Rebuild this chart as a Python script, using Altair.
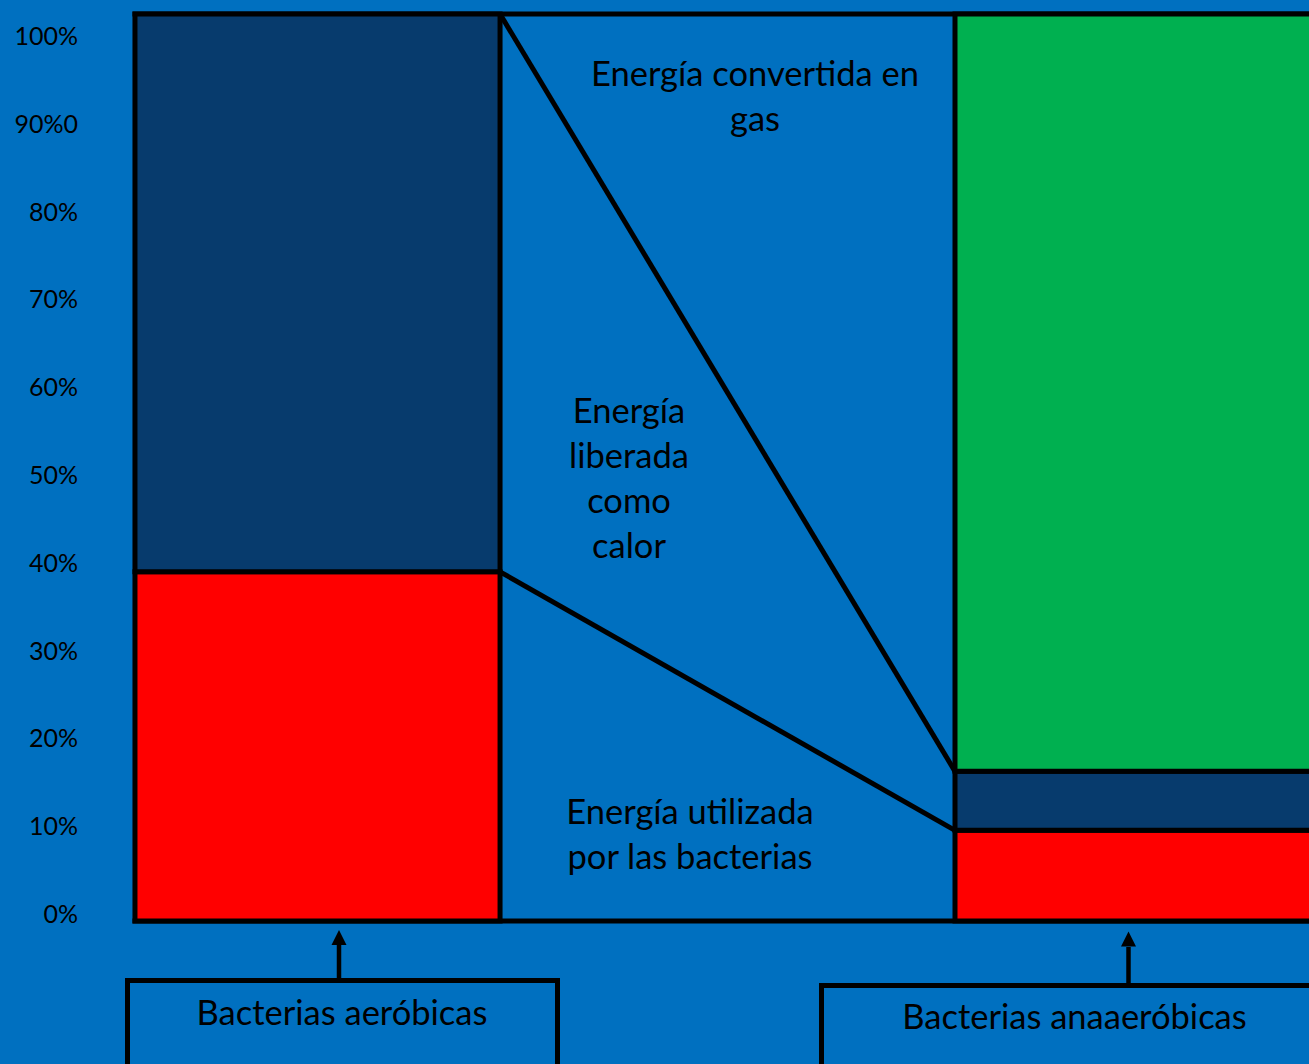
import altair as alt
import pandas as pd

# ---------------- data ----------------
categories = ["Bacterias aeróbicas", "Bacterias anaaeróbicas"]
utilizada = [38.5, 10.0]      # Energía utilizada por las bacterias (%)
calor = [61.5, 6.5]           # Energía liberada como calor (%)
gas = [0.0, 83.5]             # Energía convertida en gas (%)
segment_names = ["utilizada", "calor", "gas"]
segment_colors = ["#FF0000", "#073B6D", "#00B050"]

tick_values = [0, 10, 20, 30, 40, 50, 60, 70, 80, 90, 100]
tick_labels = ["0%", "10%", "20%", "30%", "40%", "50%", "60%", "70%", "80%", "90%0", "100%"]

label_gas = ["Energía convertida en", "gas"]
label_calor = ["Energía", "liberada", "como", "calor"]
label_util = ["Energía utilizada", "por las bacterias"]

# ---------------- tables ----------------
series = {"utilizada": utilizada, "calor": calor, "gas": gas}
rows = []
for i, cat in enumerate(categories):
    start = 0.0
    for name in segment_names:
        v = series[name][i]
        if v > 0:
            rows.append({"category": cat, "idx": i, "segment": name,
                         "start": start, "end": start + v})
        start += v
seg_df = pd.DataFrame(rows)

cum_a = [utilizada[0], utilizada[0] + calor[0]]
cum_b = [utilizada[1], utilizada[1] + calor[1]]
conn_df = pd.DataFrame({"ya": cum_a, "yb": cum_b})

frame_df = pd.DataFrame({"level": [0, 100]})
tick_df = pd.DataFrame({"value": tick_values, "label": tick_labels})

# ---------------- scales ----------------
HALF = 0.2226
XMIN, XMAX = -0.3872, 1.2091
xscale = alt.Scale(domain=[XMIN, XMAX], nice=False, zero=False)
yscale = alt.Scale(domain=[-15.766, 101.544], nice=False, zero=False)
tickscale = alt.Scale(domain=[-16.95, 104.2], nice=False, zero=False)

FONT = "Lato"
FS = 34.5
one = alt.Data(values=[{}])

frame = alt.Chart(frame_df).transform_calculate(
    xa=f"{-HALF}", xb=f"{XMAX}"
).mark_rule(color="black", strokeWidth=5, strokeCap="square").encode(
    x=alt.X("xa:Q", scale=xscale, axis=None),
    x2="xb:Q",
    y=alt.Y("level:Q", scale=yscale, axis=None),
)

connectors = alt.Chart(conn_df).transform_calculate(
    xa=f"0 + {HALF}", xb=f"1 - {HALF}"
).mark_rule(color="black", strokeWidth=5).encode(
    x=alt.X("xa:Q", scale=xscale, axis=None),
    x2="xb:Q",
    y=alt.Y("ya:Q", scale=yscale, axis=None),
    y2="yb:Q",
)

bars = alt.Chart(seg_df).transform_calculate(
    x0=f"datum.idx - {HALF}", x1=f"datum.idx + {HALF}"
).mark_rect(stroke="black", strokeWidth=5, strokeJoin="miter").encode(
    x=alt.X("x0:Q", scale=xscale, axis=None),
    x2="x1:Q",
    y=alt.Y("start:Q", scale=yscale, axis=None),
    y2="end:Q",
    color=alt.Color("segment:N", scale=alt.Scale(domain=segment_names, range=segment_colors), legend=None),
)

ticks = alt.Chart(tick_df).mark_text(
    align="right", baseline="middle", font=FONT, fontSize=25, color="black"
).encode(
    x=alt.value(78),
    y=alt.Y("value:Q", scale=tickscale, axis=None),
    text="label:N",
)


def text_layer(lines, x, y, align="center"):
    return alt.Chart(one).mark_text(
        text=lines, align=align, baseline="middle", font=FONT, fontSize=FS,
        lineHeight=45, color="black"
    ).encode(x=alt.value(x), y=alt.value(y))


def box_layer(x, x2, y):
    return alt.Chart(one).mark_rect(
        fill="#0070C0", stroke="black", strokeWidth=5
    ).encode(x=alt.value(x), x2=alt.value(x2), y=alt.value(y), y2=alt.value(1120))


def arrow_layers(x, tip, base, bottom):
    line = alt.Chart(one).mark_rule(color="black", strokeWidth=4.5).encode(
        x=alt.value(x), y=alt.value(base), y2=alt.value(bottom))
    head = alt.Chart(one).mark_point(
        shape="M 0 -1 L 1 1 L -1 1 Z", filled=True, opacity=1, color="black",
        size=15 * 15, strokeWidth=0
    ).encode(x=alt.value(x), y=alt.value((tip + base) / 2))
    return [line, head]


layers = [frame, connectors, bars, ticks,
          text_layer(label_gas, 755, 76),
          text_layer(label_calor, 629, 413),
          text_layer(label_util, 690, 814),
          box_layer(127.5, 557.5, 980.5),
          box_layer(821.5, 1340, 985.5),
          alt.Chart(one).mark_text(text=categories[0], align="center", baseline="middle",
                                   font=FONT, fontSize=FS, color="black").encode(
              x=alt.value(342), y=alt.value(1015)),
          alt.Chart(one).mark_text(text=categories[1], align="center", baseline="middle",
                                   font=FONT, fontSize=FS, color="black").encode(
              x=alt.value(1074.5), y=alt.value(1018.5)),
          ] + arrow_layers(339, 930, 945, 980) + arrow_layers(1128.5, 931, 947, 985)

chart = alt.layer(*layers).resolve_scale(y="independent").properties(
    width=1309, height=1064, autosize="none", padding=0, background="#0070C0"
).configure_view(stroke=None)

chart.save("out.html", embed_options={"renderer": "svg", "actions": False})
